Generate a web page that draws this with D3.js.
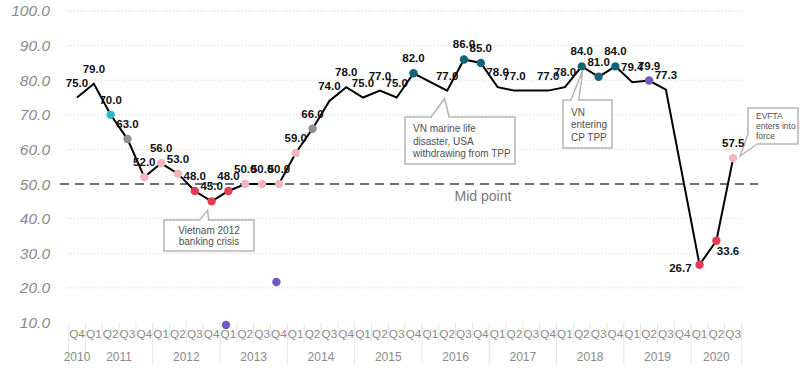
<!DOCTYPE html>
<html>
<head>
<meta charset="utf-8">
<script src="https://cdn.jsdelivr.net/npm/d3@7"></script>
<style>
  html, body { margin: 0; padding: 0; background: #fff; }
  svg { display: block; font-family: "Liberation Sans", Arial, sans-serif; }
</style>
</head>
<body>
<svg id="chart" width="800" height="377"></svg>
<script>
// ---------------- DATA ----------------
const years = ["2010","2011","2012","2013","2014","2015","2016","2017","2018","2019","2020"];
const quartersPerYear = [["Q4"],["Q1","Q2","Q3","Q4"],["Q1","Q2","Q3","Q4"],["Q1","Q2","Q3","Q4"],["Q1","Q2","Q3","Q4"],["Q1","Q2","Q3","Q4"],["Q1","Q2","Q3","Q4"],["Q1","Q2","Q3","Q4"],["Q1","Q2","Q3","Q4"],["Q1","Q2","Q3","Q4"],["Q1","Q2","Q3"]];
const values = [75.0,79.0,70.0,63.0,52.0,56.0,53.0,48.0,45.0,48.0,50.0,50.0,50.0,59.0,66.0,74.0,78.0,75.0,77.0,75.0,82.0,null,77.0,86.0,85.0,78.0,77.0,77.0,77.0,78.0,84.0,81.0,84.0,79.4,79.9,77.3,null,26.7,33.6,57.5];
// marker class per quarter (null = no marker)
const markerClass = [null,null,"cyan","grey","pink","pink","pink","red","red","red","pink","pink","pink","pink","grey",null,null,null,null,null,"teal",null,null,"teal","teal",null,null,null,null,null,"teal","teal","teal",null,"purple",null,null,"red","red","pink"];
const unlabeled = ["2017Q3"];
// second (stray) series
const extraKeys = ["2013Q1","2013Q4"];
const extraValues = [9.3, 21.7];
const yTicks = [10,20,30,40,50,60,70,80,90,100];
const midPoint = 50;
const annotations = [
  { key: "2012Q4", lines: ["Vietnam 2012", "banking crisis"] },
  { key: "2016Q2", lines: ["VN marine life", "disaster, USA", "withdrawing from TPP"] },
  { key: "2018Q2", lines: ["VN", "entering", "CP TPP"] },
  { key: "2020Q3", lines: ["EVFTA", "enters into", "force"] }
];

// ---------------- BUILD ----------------
const cats = [];
years.forEach((y, yi) => quartersPerYear[yi].forEach(q => cats.push({ key: y + q, year: y, q })));
const data = cats.map((c, i) => ({ ...c, v: values[i], m: markerClass[i], i }));

const svg = d3.select("#chart");
const x = d3.scaleBand().domain(cats.map(c => c.key)).range([68.6, 741.6]).padding(0);
const y = d3.scaleLinear().domain([10, 100]).range([322.5, 11]);
const cx = k => x(k) + x.bandwidth() / 2;
const color = d3.scaleOrdinal()
  .domain(["cyan","grey","pink","red","teal","purple"])
  .range(["#2ab6cb","#8e8e8e","#f4b5bf","#e63c55","#17637c","#7457c2"]);

// gridlines
svg.append("g").selectAll("line")
  .data(yTicks.filter(t => t !== midPoint && t !== 10))
  .join("line")
  .attr("x1", 68).attr("x2", 742)
  .attr("y1", d => y(d)).attr("y2", d => y(d))
  .attr("stroke", "#d6d6d6").attr("stroke-width", 1).attr("stroke-dasharray", "1,2");

// y-axis labels
const yAxis = d3.axisLeft(y).tickValues(yTicks).tickFormat(d3.format(".1f")).tickSize(0).tickPadding(0);
const yg = svg.append("g").attr("transform", "translate(50,0)").call(yAxis);
yg.select(".domain").remove();
yg.selectAll("text").attr("font-size", 15.5).attr("font-style", "italic").attr("fill", "#8a8a8a")
  .attr("font-family", "Liberation Sans, Arial, sans-serif");

// x-axis: separators
const bounds = d3.range(cats.length + 1).map(k => 68.6 + k * x.bandwidth());
const yearStarts = new Set([0]);
let acc = 0;
quartersPerYear.forEach(qs => { acc += qs.length; yearStarts.add(acc); });
svg.append("g").selectAll("line").data(bounds).join("line")
  .attr("x1", d => d).attr("x2", d => d)
  .attr("y1", 322.5).attr("y2", (d, k) => yearStarts.has(k) ? 364 : 343)
  .attr("stroke", "#e6e6e6").attr("stroke-width", 1);

// quarter labels via axis
const xAxis = d3.axisBottom(x).tickFormat(k => cats.find(c => c.key === k).q).tickSize(0).tickPadding(0);
const xg = svg.append("g").attr("transform", "translate(0,330)").call(xAxis);
xg.select(".domain").remove();
xg.selectAll("text").attr("font-size", 11.8).attr("fill", "#8a8a8a").attr("dy", "0.71em")
  .attr("font-family", "Liberation Sans, Arial, sans-serif");

// year labels
svg.append("g").selectAll("text").data(years).join("text")
  .attr("x", yr => {
    const ks = cats.filter(c => c.year === yr);
    return (x(ks[0].key) + x(ks[ks.length - 1].key) + x.bandwidth()) / 2;
  })
  .attr("y", 361).attr("text-anchor", "middle")
  .attr("font-size", 12).attr("fill", "#8a8a8a").text(d => d);

// midpoint dashed line
svg.append("line").attr("x1", 60).attr("x2", 758).attr("y1", y(midPoint)).attr("y2", y(midPoint))
  .attr("stroke", "#6f6f6f").attr("stroke-width", 2).attr("stroke-dasharray", "9,6");
svg.append("text").attr("x", 483).attr("y", y(midPoint) + 17).attr("text-anchor", "middle")
  .attr("font-size", 14).attr("fill", "#7a7a7a").text("Mid point");

// line
const defined = data.filter(d => d.v !== null);
svg.append("path").datum(defined)
  .attr("d", d3.line().x(d => cx(d.key)).y(d => y(d.v)))
  .attr("fill", "none").attr("stroke", "#000").attr("stroke-width", 2).attr("stroke-linejoin", "miter");

// extra points
svg.append("g").selectAll("circle").data(extraKeys.map((k, i) => ({ k, v: extraValues[i] }))).join("circle")
  .attr("cx", d => cx(d.k) - 2.5).attr("cy", d => y(d.v)).attr("r", 4.2).attr("fill", color("purple"));

// markers
svg.append("g").selectAll("circle").data(defined.filter(d => d.m)).join("circle")
  .attr("cx", d => cx(d.key)).attr("cy", d => y(d.v)).attr("r", 4.2).attr("fill", d => color(d.m));

// annotation boxes
function callout(box, base, tip, lines, fs, lh, anchor) {
  const g = svg.append("g");
  g.append("rect").attr("x", box[0]).attr("y", box[1]).attr("width", box[2] - box[0]).attr("height", box[3] - box[1])
    .attr("fill", "#fff").attr("stroke", "#b5b5b5").attr("stroke-width", 1.5);
  g.append("path").attr("d", `M${base[0][0]},${base[0][1]}L${tip[0]},${tip[1]}L${base[1][0]},${base[1][1]}`)
    .attr("fill", "#fff").attr("stroke", "#b5b5b5").attr("stroke-width", 1.5);
  g.append("line").attr("x1", base[0][0] + 1).attr("y1", base[0][1]).attr("x2", base[1][0] - 1).attr("y2", base[1][1])
    .attr("stroke", "#fff").attr("stroke-width", 2);
  const tx = anchor === "middle" ? (box[0] + box[2]) / 2 : box[0] + (anchor === "start" ? 8 : 0);
  const t = g.append("text").attr("font-size", fs).attr("fill", "#505050").attr("text-anchor", anchor);
  lines.forEach((l, i) => t.append("tspan").attr("x", tx).attr("y", box[1] + lh * (i + 1) + (box[3] - box[1] - lh * lines.length) / 2 - 2).text(l));
}
{
  const a = annotations[0], px = cx(a.key), py = y(values[cats.findIndex(c => c.key === a.key)]);
  callout([164, 220, 254, 251], [[px - 12, 220], [px - 3, 220]], [px - 4, py + 9], a.lines, 10, 11.5, "middle");
}
{
  const a = annotations[1], px = cx(a.key), py = y(values[cats.findIndex(c => c.key === a.key)]);
  callout([405, 117, 515, 164], [[px - 16, 117], [px + 2, 117]], [px - 2.5, py + 8], a.lines, 10, 12.5, "start");
}
{
  const a = annotations[2], px = cx(a.key), py = y(values[cats.findIndex(c => c.key === a.key)]);
  callout([563, 100, 612, 148], [[px - 11, 100], [px - 3, 100]], [px + 1, py + 4], a.lines, 10, 12.5, "start");
}
{
  const a = annotations[3], px = cx(a.key), py = y(values[cats.findIndex(c => c.key === a.key)]);
  callout([748, 108, 798, 144], [[748, 134], [757, 144]], [px + 7, py - 2], a.lines, 8.5, 10, "start");
}

// data labels
const special = {
  "2020Q1": { dx: -8, dy: 7, anchor: "end" },
  "2020Q2": { dx: 0.5, dy: 14.5, anchor: "start" }
};
svg.append("g").selectAll("text").data(defined.filter(d => !unlabeled.includes(d.key))).join("text")
  .attr("x", d => cx(d.key) + (special[d.key] ? special[d.key].dx : 0))
  .attr("y", d => y(d.v) + (special[d.key] ? special[d.key].dy : -11))
  .attr("text-anchor", d => special[d.key] ? special[d.key].anchor : "middle")
  .attr("font-size", 11.5).attr("font-weight", "bold").attr("fill", "#111")
  .text(d => d3.format(".1f")(d.v));
</script>
</body>
</html>
